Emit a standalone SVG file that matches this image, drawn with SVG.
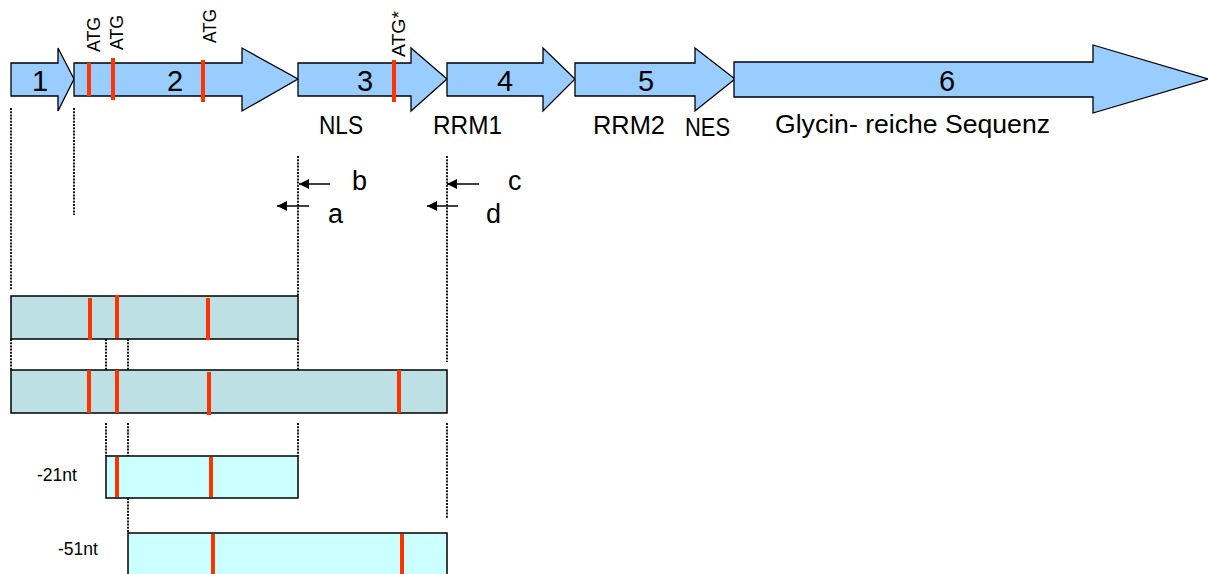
<svg xmlns="http://www.w3.org/2000/svg" width="1208" height="574" viewBox="0 0 1208 574">
<style>
.exon{fill:#99CCFF;stroke:#000;stroke-width:1.3}
.atg{stroke:#FF3300;stroke-width:4}
.dot{stroke:#000;stroke-width:1.8;stroke-dasharray:2 1.2;fill:none}
.t{font-family:"Liberation Sans",Arial,sans-serif;fill:#000}
.num{font-size:29px;text-anchor:middle}
.lab{font-size:26px}
.rot{font-size:19px}
.pl{font-size:27px}
.box1{fill:#BCE0E3;stroke:#000;stroke-width:1.5}
.box2{fill:#CCFFFF;stroke:#000;stroke-width:1.5}
.prim{stroke:#000;stroke-width:1.5;fill:none;marker-end:url(#ah)}
</style>
<defs>
<marker id="ah" viewBox="0 0 10 10" refX="10" refY="5" markerWidth="11" markerHeight="10" markerUnits="userSpaceOnUse" orient="auto">
<path d="M0,0 L10,5 L0,10 z" fill="#000"/>
</marker>
</defs>
<rect width="1208" height="574" fill="#fff"/>

<g id="exon1">
<polygon class="exon" points="11,63 58,63 58,48 74,79 58,111 58,96 11,96"/>
<text class="t num" x="40" y="91">1</text>
</g>
<g id="exon2">
<polygon class="exon" points="74,63 242,63 242,48 298,79 242,111 242,96 74,96"/>
<text class="t num" x="175" y="91">2</text>
<line class="atg" x1="89" y1="63" x2="89" y2="96"/>
<line class="atg" x1="113" y1="58" x2="113" y2="100"/>
<line class="atg" x1="203" y1="60" x2="203" y2="102"/>
<text class="t rot" transform="translate(100,52) rotate(-90)" textLength="35" lengthAdjust="spacingAndGlyphs">ATG</text>
<text class="t rot" transform="translate(123,50) rotate(-90)" textLength="35" lengthAdjust="spacingAndGlyphs">ATG</text>
<text class="t rot" transform="translate(216,43) rotate(-90)" textLength="34" lengthAdjust="spacingAndGlyphs">ATG</text>
</g>
<g id="exon3">
<polygon class="exon" points="298,63 411,63 411,48 447,79 411,111 411,96 298,96"/>
<text class="t num" x="365" y="91">3</text>
<line class="atg" x1="394" y1="60" x2="394" y2="102"/>
<text class="t rot" transform="translate(405,57) rotate(-90)" textLength="46" lengthAdjust="spacingAndGlyphs">ATG*</text>
</g>
<g id="exon4">
<polygon class="exon" points="447,63 543,63 543,48 575,79 543,111 543,96 447,96"/>
<text class="t num" x="505" y="91">4</text>
</g>
<g id="exon5">
<polygon class="exon" points="575,63 695,63 695,48 735,79 695,111 695,96 575,96"/>
<text class="t num" x="646" y="91">5</text>
</g>
<g id="exon6">
<polygon class="exon" points="734,62 1093,62 1093,45 1208,79 1093,113 1093,97 734,97"/>
<text class="t num" x="947" y="91">6</text>
</g>

<g id="labels">
<text class="t lab" x="319" y="134" textLength="44" lengthAdjust="spacingAndGlyphs">NLS</text>
<text class="t lab" x="433" y="134" textLength="69" lengthAdjust="spacingAndGlyphs">RRM1</text>
<text class="t lab" x="593" y="134" textLength="72" lengthAdjust="spacingAndGlyphs">RRM2</text>
<text class="t lab" x="685" y="136" textLength="45" lengthAdjust="spacingAndGlyphs">NES</text>
<text class="t lab" x="775" y="133" textLength="275" lengthAdjust="spacingAndGlyphs">Glycin- reiche Sequenz</text>
</g>

<g id="connectors">
<line class="dot" x1="11" y1="108" x2="11" y2="290"/>
<line class="dot" x1="74" y1="108" x2="74" y2="215"/>
<line class="dot" x1="298" y1="156" x2="298" y2="296"/>
<line class="dot" x1="447" y1="156" x2="447" y2="362"/>
<line class="dot" x1="11" y1="339" x2="11" y2="370"/>
<line class="dot" x1="106" y1="339" x2="106" y2="370"/>
<line class="dot" x1="128" y1="339" x2="128" y2="370"/>
<line class="dot" x1="298" y1="339" x2="298" y2="370"/>
<line class="dot" x1="106" y1="423" x2="106" y2="456"/>
<line class="dot" x1="128" y1="423" x2="128" y2="456"/>
<line class="dot" x1="298" y1="423" x2="298" y2="456"/>
<line class="dot" x1="447" y1="423" x2="447" y2="519"/>
<line class="dot" x1="128" y1="498" x2="128" y2="533"/>
<line class="prim" x1="330" y1="184" x2="299" y2="184"/>
<line class="prim" x1="309" y1="206" x2="277" y2="206"/>
<line class="prim" x1="479" y1="184" x2="447" y2="184"/>
<line class="prim" x1="458" y1="206" x2="427" y2="206"/>
</g>

<g id="primer-labels">
<text class="t pl" x="352" y="190">b</text>
<text class="t pl" x="328" y="223">a</text>
<text class="t pl" x="508" y="190">c</text>
<text class="t pl" x="486" y="223">d</text>
</g>

<g id="construct1">
<rect class="box1" x="11" y="296" width="287" height="43"/>
<line class="atg" x1="90" y1="298" x2="90" y2="340"/>
<line class="atg" x1="117" y1="295" x2="117" y2="338"/>
<line class="atg" x1="208" y1="298" x2="208" y2="340"/>
</g>
<g id="construct2">
<rect class="box1" x="11" y="370" width="436" height="43"/>
<line class="atg" x1="89" y1="370" x2="89" y2="413"/>
<line class="atg" x1="117" y1="370" x2="117" y2="413"/>
<line class="atg" x1="209" y1="372" x2="209" y2="415"/>
<line class="atg" x1="399" y1="370" x2="399" y2="413"/>
</g>
<g id="construct3">
<rect class="box2" x="106" y="456" width="192" height="42"/>
<line class="atg" x1="117" y1="457" x2="117" y2="497"/>
<line class="atg" x1="211" y1="457" x2="211" y2="497"/>
<text class="t" x="37" y="481" font-size="19" textLength="40" lengthAdjust="spacingAndGlyphs">-21nt</text>
</g>
<g id="construct4">
<rect class="box2" x="128" y="533" width="319" height="50"/>
<line class="atg" x1="213" y1="534" x2="213" y2="580"/>
<line class="atg" x1="402" y1="534" x2="402" y2="580"/>
<text class="t" x="58" y="555" font-size="19" textLength="40" lengthAdjust="spacingAndGlyphs">-51nt</text>
</g>
</svg>
